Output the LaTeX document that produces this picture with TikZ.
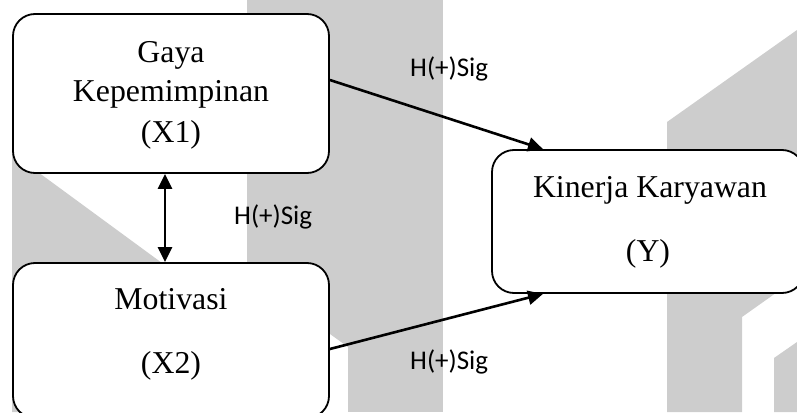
\documentclass[tikz,border=0pt]{standalone}
\usepackage{fontspec}
\setmainfont{Liberation Serif}
\newfontfamily\lblfont{Carlito}
\usetikzlibrary{arrows.meta}
\definecolor{wmgray}{RGB}{205,205,205}
\begin{document}
\begin{tikzpicture}[x=1pt,y=-1pt,
  watermark/.style={fill=wmgray, draw=none},
  varbox/.style={draw=black, line width=1.8pt, fill=white, rounded corners=22pt,
    rectangle, inner sep=0pt},
  boxtext/.style={font=\fontsize{31.8}{38}\selectfont, anchor=base, inner sep=0pt},
  siglabel/.style={font=\lblfont\fontsize{27}{32}\selectfont, anchor=base west, inner sep=0pt},
  tipshape/.tip={Triangle[length=15pt,width=14pt]},
  link/.style={line width=2.6pt, -tipshape},
  twoway/.style={line width=2.6pt, tipshape-tipshape}
]
\useasboundingbox (0,0) rectangle (797,412);

% light background emblem shapes
\fill[watermark] (12,153) -- (162,263) -- (162,412) -- (12,412) -- cycle;
\fill[watermark] (247,0) -- (348,0) -- (348,347) -- (247,274) -- cycle;
\fill[watermark] (348,0) -- (443,0) -- (443,412) -- (348,412) -- cycle;
\fill[watermark] (667,412) -- (667,122) -- (797,30) -- (797,278) -- (742,317) -- (742,412) -- cycle;
\fill[watermark] (774,412) -- (774,358) -- (797,342) -- (797,412) -- cycle;

% variable boxes
\node[varbox, minimum width=316pt, minimum height=159pt] (lead) at (171,93.5) {};
\node[varbox, minimum width=316pt, minimum height=155pt] (motiv) at (171,340.5) {};
\node[varbox, minimum width=312pt, minimum height=143pt] (perf) at (648,221.5) {};

% box texts
\node[boxtext] (leadA) at (171,63) {Gaya};
\node[boxtext] (leadB) at (171,101) {Kepemimpinan};
\node[boxtext] (leadC) at (171,142) {(X1)};
\node[boxtext] (motivA) at (171,309) {Motivasi};
\node[boxtext] (motivB) at (171,373) {(X2)};
\node[boxtext] (perfA) at (650,197) {Kinerja Karyawan};
\node[boxtext] (perfB) at (648,261) {(Y)};

% connectors
\draw[link] ([yshift=13.5pt]lead.east) -- ([xshift=-105pt]perf.north);
\draw[link] ([yshift=-8.5pt]motiv.east) -- ([xshift=-105pt]perf.south);
\draw[twoway] ([xshift=-6pt]lead.south) -- ([xshift=-6pt]motiv.north);

% path labels
\node[siglabel] (sigTop) at (410,76) {H(+)Sig};
\node[siglabel] (sigMid) at (234,224) {H(+)Sig};
\node[siglabel] (sigBot) at (410,369) {H(+)Sig};
\end{tikzpicture}
\end{document}
